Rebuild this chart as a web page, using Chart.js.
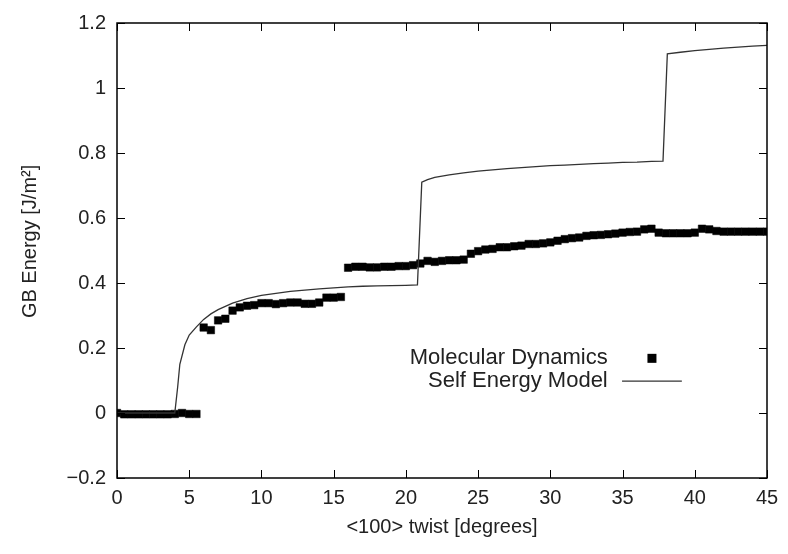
<!DOCTYPE html>
<html>
<head>
<meta charset="utf-8">
<script src="https://cdn.jsdelivr.net/npm/chart.js@4"></script>
<style>
  html, body { margin: 0; padding: 0; background: #fff; }
  #wrap { width: 788px; height: 554px; }
</style>
</head>
<body>
<div id="wrap"><canvas id="gbChart"></canvas></div>
<script>
/* ========================================
   DADOS
   ======================================== */

// Molecular Dynamics: twist angle (graus) e energia (J/m2)
const mdTwist = [
  0, 0.5, 1, 1.5, 2, 2.5, 3, 3.5, 4, 4.5, 5, 5.5,
  6, 6.5, 7, 7.5, 8, 8.5, 9, 9.5, 10, 10.5, 11, 11.5, 12, 12.5, 13, 13.5, 14, 14.5, 15, 15.5,
  16, 16.5, 17, 17.5, 18, 18.5, 19, 19.5, 20, 20.5, 21, 21.5, 22, 22.5, 23, 23.5, 24, 24.5,
  25, 25.5, 26, 26.5, 27, 27.5, 28, 28.5, 29, 29.5, 30, 30.5, 31, 31.5, 32, 32.5, 33, 33.5,
  34, 34.5, 35, 35.5, 36, 36.5, 37, 37.5, 38, 38.5, 39, 39.5, 40, 40.5, 41, 41.5, 42, 42.5,
  43, 43.5, 44, 44.5, 45
];
const mdEnergy = [
  0, -0.004, -0.004, -0.004, -0.004, -0.004, -0.004, -0.004, -0.003, 0, -0.003, -0.003,
  0.263, 0.255, 0.285, 0.29, 0.315, 0.325, 0.33, 0.332, 0.338, 0.338, 0.335, 0.338, 0.34, 0.34, 0.336, 0.336, 0.34, 0.355, 0.355, 0.357,
  0.447, 0.45, 0.45, 0.448, 0.448, 0.45, 0.45, 0.452, 0.452, 0.455, 0.46, 0.468, 0.465, 0.468, 0.47, 0.47, 0.472, 0.49,
  0.498, 0.503, 0.505, 0.51, 0.51, 0.513, 0.515, 0.52, 0.52, 0.522, 0.525, 0.53, 0.535, 0.538, 0.54, 0.545, 0.547, 0.548,
  0.55, 0.552, 0.555, 0.557, 0.558, 0.565, 0.567, 0.555, 0.553, 0.553, 0.553, 0.553, 0.555, 0.567, 0.565, 0.56, 0.558, 0.558,
  0.558, 0.558, 0.558, 0.558, 0.558
];

// Self Energy Model
const modelTwist = [
  0, 4.0, 4.2, 4.35, 4.7, 5, 5.5, 6, 6.5, 7, 8, 9, 10, 11, 12, 13, 14, 15, 16, 17, 18, 19, 20, 20.8,
  21.1, 21.5, 22, 23, 24, 25, 26, 27, 28, 29, 30, 31, 32, 33, 34, 35, 36, 37, 37.8,
  38.1, 39, 40, 41, 42, 43, 44, 45
];
const modelEnergy = [
  0, 0, 0.08, 0.15, 0.21, 0.24, 0.265, 0.288, 0.305, 0.318, 0.338, 0.352, 0.362, 0.368, 0.374, 0.378, 0.382, 0.385, 0.388, 0.39, 0.391, 0.392, 0.393, 0.394,
  0.71, 0.718, 0.725, 0.733, 0.739, 0.744, 0.748, 0.752, 0.755, 0.758, 0.761, 0.763, 0.765, 0.767, 0.769, 0.771, 0.772, 0.774, 0.775,
  1.105, 1.11, 1.115, 1.119, 1.123, 1.126, 1.129, 1.131
];

// Eixos
const xTicks = [0, 5, 10, 15, 20, 25, 30, 35, 40, 45];
const xTickLabels = ['0', '5', '10', '15', '20', '25', '30', '35', '40', '45'];
const yTicks = [-0.2, 0, 0.2, 0.4, 0.6, 0.8, 1.0, 1.2];
const yTickLabels = ['\u22120.2', '0', '0.2', '0.4', '0.6', '0.8', '1', '1.2'];

const seriesNames = ['Molecular Dynamics', 'Self Energy Model'];
const axisTitles = ['<100> twist [degrees]', 'GB Energy [J/m\u00B2]'];

/* ========================================
   PLUGIN - MOLDURA, TICKS INTERNOS, TÍTULOS, LEGENDA
   ======================================== */

const FONT = '"Liberation Sans", Arial, Helvetica, sans-serif';
const INK = '#222';

const framePlugin = {
  id: 'frame',
  afterDatasetsDraw(chart) {
    const ctx = chart.ctx;
    const a = chart.chartArea;
    const sx = chart.scales.x;
    const sy = chart.scales.y;
    const len = 8;
    const w = a.right - a.left;
    const h = a.bottom - a.top;

    ctx.save();
    ctx.strokeStyle = '#000';
    ctx.lineWidth = 1.5;
    ctx.strokeRect(a.left, a.top, w, h);

    // ticks para dentro, nos quatro lados
    ctx.lineWidth = 1;
    ctx.beginPath();
    sx.ticks.forEach(t => {
      const px = Math.round(sx.getPixelForValue(t.value)) + 0.5;
      ctx.moveTo(px, a.bottom); ctx.lineTo(px, a.bottom - len);
      ctx.moveTo(px, a.top); ctx.lineTo(px, a.top + len);
    });
    sy.ticks.forEach(t => {
      const py = Math.round(sy.getPixelForValue(t.value)) + 0.5;
      ctx.moveTo(a.left, py); ctx.lineTo(a.left + len, py);
      ctx.moveTo(a.right, py); ctx.lineTo(a.right - len, py);
    });
    ctx.stroke();

    // títulos dos eixos
    ctx.fillStyle = INK;
    ctx.font = '20px ' + FONT;
    ctx.textAlign = 'center';
    ctx.textBaseline = 'middle';
    ctx.fillText(axisTitles[0], (a.left + a.right) / 2, a.bottom + 49);
    ctx.save();
    ctx.translate(30, a.top + h * 0.48);
    ctx.rotate(-Math.PI / 2);
    ctx.fillText(axisTitles[1], 0, 0);
    ctx.restore();

    // legenda interna (canto inferior direito)
    const textRight = a.left + w * 0.755;
    const row1 = a.top + h * 0.737;
    const row2 = a.top + h * 0.787;

    ctx.font = '22px ' + FONT;
    ctx.textAlign = 'right';
    ctx.fillText(seriesNames[0], textRight, row1);
    ctx.fillText(seriesNames[1], textRight, row2);

    ctx.fillStyle = '#000';
    const mx = a.left + w * 0.823;
    ctx.fillRect(mx - 4.5, row1 - 4.5, 9, 9);

    ctx.strokeStyle = '#333';
    ctx.lineWidth = 1.3;
    ctx.beginPath();
    ctx.moveTo(a.left + w * 0.777, row2);
    ctx.lineTo(a.left + w * 0.869, row2);
    ctx.stroke();
    ctx.restore();
  }
};

/* ========================================
   GRÁFICO
   ======================================== */

function buildChart() {
  const canvas = document.getElementById('gbChart');

  new Chart(canvas, {
    type: 'scatter',
    data: {
      datasets: [
        {
          label: seriesNames[1],
          data: modelTwist.map((x, i) => ({ x: x, y: modelEnergy[i] })),
          showLine: true,
          borderColor: '#333',
          borderWidth: 1.3,
          pointRadius: 0,
          tension: 0
        },
        {
          label: seriesNames[0],
          data: mdTwist.map((x, i) => ({ x: x, y: mdEnergy[i] })),
          showLine: false,
          pointStyle: 'rect',
          pointRadius: 5.3,
          pointBackgroundColor: '#000',
          pointBorderColor: '#000',
          pointBorderWidth: 0.5
        }
      ]
    },
    options: {
      responsive: true,
      maintainAspectRatio: false,
      animation: false,
      layout: {
        padding: { top: 18, right: 21, left: 0, bottom: 0 }
      },
      plugins: {
        legend: { display: false },
        tooltip: { enabled: false }
      },
      scales: {
        x: {
          type: 'linear',
          min: 0,
          max: 45,
          afterBuildTicks: s => { s.ticks = xTicks.map(v => ({ value: v })); },
          afterFit: s => { s.height = 76; },
          grid: { display: false, drawTicks: false },
          border: { display: false },
          ticks: {
            color: INK,
            padding: 8,
            maxRotation: 0,
            font: { family: FONT, size: 20 },
            callback: v => xTickLabels[xTicks.indexOf(v)]
          }
        },
        y: {
          type: 'linear',
          min: -0.2,
          max: 1.2,
          afterBuildTicks: s => { s.ticks = yTicks.map(v => ({ value: v })); },
          afterFit: s => { s.width = 117; },
          grid: { display: false, drawTicks: false },
          border: { display: false },
          ticks: {
            color: INK,
            padding: 11,
            font: { family: FONT, size: 20 },
            callback: v => yTickLabels[yTicks.findIndex(t => Math.abs(t - v) < 1e-6)]
          }
        }
      }
    },
    plugins: [framePlugin]
  });
}

document.addEventListener('DOMContentLoaded', buildChart);
</script>
</body>
</html>
